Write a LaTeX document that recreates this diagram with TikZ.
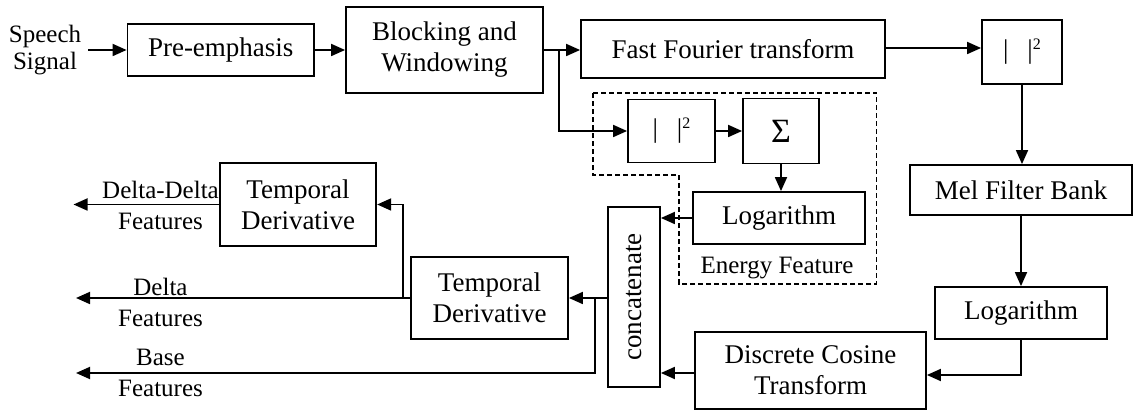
\documentclass[tikz,border=0pt]{standalone}
\usepackage{fontspec}
\setmainfont{Liberation Serif}
\usepackage{graphicx}
\usetikzlibrary{arrows.meta}
\newcommand{\boxfnt}{\fontsize{27}{31}\selectfont}
\newcommand{\lblfnt}{\fontsize{25}{29}\selectfont}
\newcommand{\absq}{\textbar\hspace{19pt}\textbar\raisebox{9pt}{\fontsize{16}{16}\selectfont 2}}
\begin{document}
\begin{tikzpicture}[x=1pt,y=-1pt,line width=1.8pt,
  box/.style={draw, inner sep=0pt, font=\boxfnt, align=center},
  lbl/.style={inner sep=0pt, font=\lblfnt, align=center},
  arr/.style={-{Triangle[length=14pt,width=12pt]}},
  dashbox/.style={line width=1.3pt, dash pattern=on 5pt off 3pt}]
\useasboundingbox (0,0) rectangle (1133,411);
% nodes
\node[lbl] (speech) at (45,50) {Speech\\[-2pt]Signal};
\node[box, minimum width=186.5pt, minimum height=52pt] (pre) at (220.75,50) {Pre-emphasis};
\node[box, minimum width=197pt, minimum height=86pt] (block) at (444.5,50) {Blocking and\\Windowing};
\node[box, minimum width=304pt, minimum height=58pt] (fft) at (733,49) {Fast Fourier transform};
\node[box, minimum width=80pt, minimum height=64pt] (abs1) at (1022,52) {\absq};
\node[box, minimum width=87pt, minimum height=63pt] (abs2) at (671.5,131) {\absq};
\node[box, minimum width=76pt, minimum height=65pt, font=\fontsize{34}{34}\selectfont] (sum) at (781,131) {Σ};
\node[box, minimum width=172pt, minimum height=52pt] (elog) at (779,218) {Logarithm};
\node[lbl] (ef) at (777,268) {Energy Feature};
\node[box, minimum width=222pt, minimum height=50pt] (mel) at (1021,190) {Mel Filter Bank};
\node[box, minimum width=172pt, minimum height=52pt] (log) at (1021,313) {Logarithm};
\node[box, minimum width=231pt, minimum height=77pt] (dct) at (810.5,370.5) {Discrete Cosine\\Transform};
\node[box, minimum width=52pt, minimum height=180pt] (concat) at (634,297) {\rotatebox{90}{concatenate}};
\node[box, minimum width=156.5pt, minimum height=83pt] (td1) at (298,204.5) {Temporal\\Derivative};
\node[box, minimum width=157pt, minimum height=82pt] (td2) at (489.5,298) {Temporal\\Derivative};
\node[lbl] (ddl) at (160.5,190) {Delta-Delta};
\node[lbl] (ddf) at (160.5,221) {Features};
\node[lbl] (dl) at (160.5,287) {Delta};
\node[lbl] (df) at (160.5,318) {Features};
\node[lbl] (bl) at (160.5,357) {Base};
\node[lbl] (bf) at (160.5,388) {Features};
% coordinates
\coordinate (br) at (559,50);
\coordinate (j1) at (594.6,298);
\coordinate (j2) at (403,298);
\coordinate (ddend) at (73.5,204.5);
\coordinate (dend) at (76,298);
\coordinate (bend) at (76,373);
% connectors
\draw[arr, shorten <=6.5pt] (speech.east |- pre.west) -- (pre.west);
\draw[arr] (pre.east) -- (block.west);
\draw (block.east) -- (br);
\draw[arr] (br) -- (br -| fft.west);
\draw[arr] (br) |- (abs2.west);
\draw[arr] (abs2.east) -- (abs2.east -| sum.west);
\draw[arr] (sum.south) -- (sum.south |- elog.north);
\draw[arr] (elog.west) -- (elog.west -| concat.east);
\draw[arr] (fft.east |- 0,48) -- (abs1.west |- 0,48);
\draw[arr] (abs1.south) -- (abs1.south |- mel.north);
\draw[arr] (mel.south) -- (mel.south |- log.north);
\draw[arr] (log.south) |- (dct.east |- 0,375);
\draw[arr] (dct.west |- bend) -- (concat.east |- bend);
\draw[arr] (concat.west |- td2.east) -- (td2.east);
\draw[arr] (j1) |- (bend);
\draw[arr] (td2.west) -- (dend);
\draw[arr] (j2) |- (td1.east);
\draw[arr] (td1.west) -- (ddend);
\draw[dashbox] (593,93) -- (876.6,93) -- (876.6,284) -- (679,284) -- (679,175) -- (593,175) -- cycle;
\end{tikzpicture}
\end{document}
